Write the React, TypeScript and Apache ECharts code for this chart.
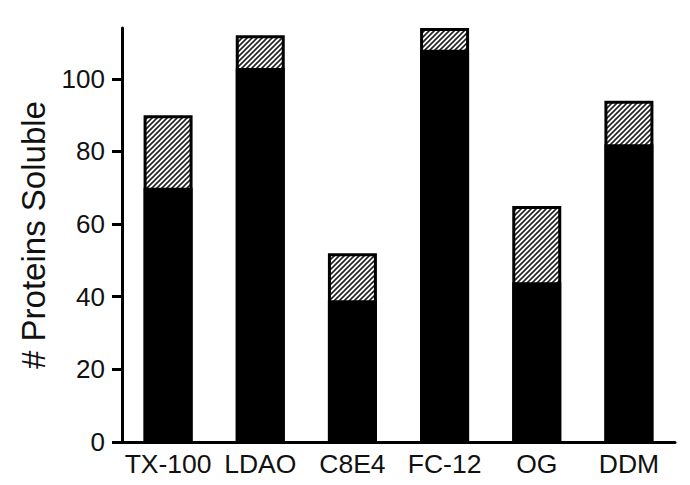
import React, { useEffect, useRef } from "react";
import * as echarts from "echarts";

const categories = ["TX-100", "LDAO", "C8E4", "FC-12", "OG", "DDM"];
const solidValues = [70, 103, 39, 108, 44, 82];
const hatchedValues = [20, 9, 13, 6, 21, 12];
const yTicks = [0, 20, 40, 60, 80, 100];

function makeHatch(): HTMLCanvasElement {
  const size = 5;
  const c = document.createElement("canvas");
  c.width = size;
  c.height = size;
  const ctx = c.getContext("2d")!;
  ctx.fillStyle = "#ffffff";
  ctx.fillRect(0, 0, size, size);
  ctx.strokeStyle = "#222222";
  ctx.lineWidth = 1.6;
  ctx.beginPath();
  ctx.moveTo(-1, size + 1);
  ctx.lineTo(size + 1, -1);
  ctx.moveTo(-1, 1);
  ctx.lineTo(1, -1);
  ctx.moveTo(size - 1, size + 1);
  ctx.lineTo(size + 1, size - 1);
  ctx.stroke();
  return c;
}

export default function App() {
  const ref = useRef<HTMLDivElement>(null);
  useEffect(() => {
    if (!ref.current) return;
    const chart = echarts.init(ref.current, null, { renderer: "svg" });
    const font = "'Liberation Sans', Arial, Helvetica, sans-serif";
    // hatched segment sits on top of the solid one: full bar height = solid + hatched
    const totals = solidValues.map((v, i) => v + hatchedValues[i]);
    chart.setOption({
      animation: false,
      backgroundColor: "#ffffff",
      grid: { left: 122, right: 15, top: 28, bottom: 43, containLabel: false },
      xAxis: {
        type: "category",
        data: categories,
        axisLine: { show: true, lineStyle: { color: "#000", width: 3 } },
        axisTick: { show: false },
        axisLabel: { color: "#111", fontSize: 26.5, fontFamily: font, margin: 8, interval: 0 },
        splitLine: { show: false },
      },
      yAxis: {
        type: "value",
        min: 0,
        max: 114,
        interval: 20,
        name: "# Proteins Soluble",
        nameLocation: "middle",
        nameGap: 72,
        nameRotate: 90,
        nameTextStyle: { color: "#111", fontSize: 33, fontFamily: font },
        axisLine: { show: true, lineStyle: { color: "#000", width: 3 } },
        axisTick: {
          show: true,
          inside: false,
          length: 10,
          lineStyle: { color: "#000", width: 3 },
          customValues: yTicks,
        },
        axisLabel: {
          color: "#111",
          fontSize: 26,
          fontFamily: font,
          margin: 17,
          customValues: yTicks,
        },
        splitLine: { show: false },
      },
      series: [
        {
          type: "bar",
          data: totals,
          barWidth: 49,
          barGap: "-100%",
          z: 2,
          clip: false,
          itemStyle: {
            color: { image: makeHatch(), repeat: "repeat" },
            borderColor: "#000",
            borderWidth: 3,
          },
        },
        {
          type: "bar",
          data: solidValues,
          barWidth: 49,
          barGap: "-100%",
          z: 3,
          itemStyle: { color: "#000", borderColor: "#000", borderWidth: 2 },
        },
      ],
    });
    return () => chart.dispose();
  }, []);
  return (
    <div
      ref={ref}
      style={{ position: "absolute", left: 0, top: 0, width: 690, height: 485 }}
    />
  );
}
